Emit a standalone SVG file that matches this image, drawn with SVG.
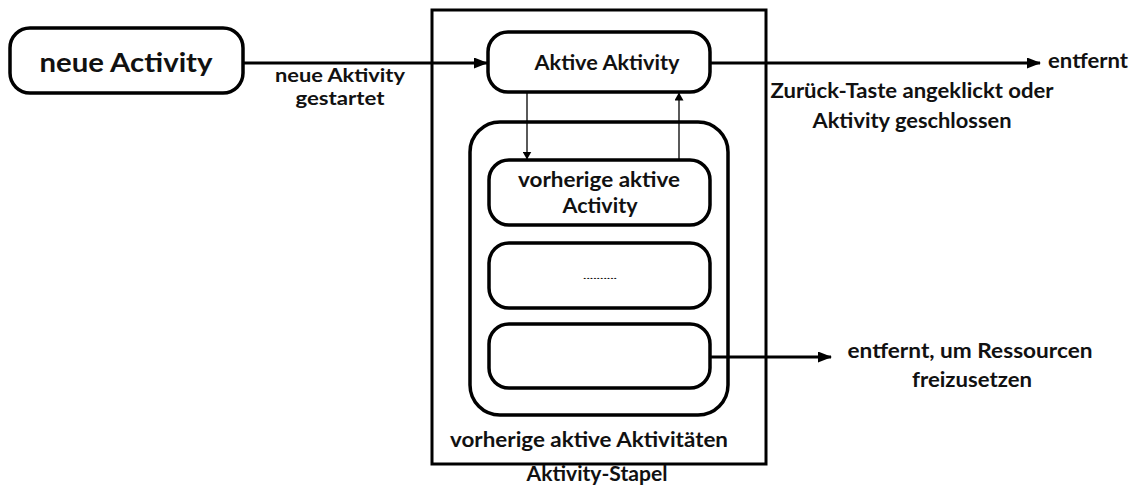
<svg xmlns="http://www.w3.org/2000/svg" width="1141" height="490" viewBox="0 0 1141 490">
  <defs>
    <marker id="arrowBig" viewBox="0 0 14 11" refX="13" refY="5.5" markerWidth="14" markerHeight="11" markerUnits="userSpaceOnUse" orient="auto">
      <path d="M0,0 L14,5.5 L0,11 Z" fill="#000"/>
    </marker>
    <marker id="arrowSmall" viewBox="0 0 8 9" refX="7.5" refY="4.5" markerWidth="8" markerHeight="9" markerUnits="userSpaceOnUse" orient="auto">
      <path d="M0,0 L8,4.5 L0,9 Z" fill="#000"/>
    </marker>
  </defs>
  <style>
    .box { fill: #fff; stroke: #000; stroke-width: 3.5; }
    .frame { fill: none; stroke: #000; stroke-width: 3; }
    .t { font-family: Lato, "Open Sans", "Liberation Sans", sans-serif; font-weight: bold; fill: #111; text-anchor: middle; }
    .edge { fill: none; stroke: #000; stroke-width: 3; }
    .thin { fill: none; stroke: #000; stroke-width: 1.3; }
  </style>

  <rect width="1141" height="490" fill="#fff"/>

  <!-- activity stack frame -->
  <g id="stack">
    <rect class="frame" x="432" y="10" width="334" height="454"/>
    <text class="t" x="597" y="481" font-size="20" textLength="141" lengthAdjust="spacingAndGlyphs">Aktivity-Stapel</text>
  </g>

  <!-- previous activities container -->
  <g id="previous">
    <rect class="box" x="470" y="122" width="258" height="293" rx="30"/>
    <text class="t" x="589" y="447" font-size="20" textLength="278" lengthAdjust="spacingAndGlyphs">vorherige aktive Aktivitäten</text>
  </g>

  <g id="new-activity">
    <rect class="box" x="10" y="28" width="233" height="65" rx="20"/>
    <text class="t" x="126" y="72" font-size="27.5" textLength="173" lengthAdjust="spacingAndGlyphs">neue Activity</text>
  </g>

  <g id="active">
    <rect class="box" x="488" y="32" width="222" height="60" rx="20"/>
    <text class="t" x="607" y="70" font-size="21" textLength="145" lengthAdjust="spacingAndGlyphs">Aktive Aktivity</text>
  </g>

  <g id="prev-active">
    <rect class="box" x="489" y="160" width="221" height="65" rx="20"/>
    <text class="t" x="599" y="187" font-size="21" textLength="162" lengthAdjust="spacingAndGlyphs">vorherige aktive</text>
    <text class="t" x="600" y="213" font-size="21" textLength="75" lengthAdjust="spacingAndGlyphs">Activity</text>
  </g>

  <g id="ellipsis">
    <rect class="box" x="489" y="243" width="221" height="65" rx="20"/>
    <text class="t" x="600" y="279" font-size="8" font-weight="normal" fill="#555" textLength="34" lengthAdjust="spacingAndGlyphs">..........</text>
  </g>

  <g id="oldest">
    <rect class="box" x="489" y="324" width="221" height="64" rx="20"/>
  </g>

  <g id="connectors">
    <line class="edge" x1="243" y1="63" x2="487" y2="63" marker-end="url(#arrowBig)"/>
    <line class="edge" x1="710" y1="63" x2="1040" y2="63" marker-end="url(#arrowBig)"/>
    <line class="edge" x1="710" y1="357" x2="831" y2="357" marker-end="url(#arrowBig)"/>
    <line class="thin" x1="527" y1="92" x2="527" y2="159" marker-end="url(#arrowSmall)"/>
    <line class="thin" x1="679" y1="160" x2="679" y2="93" marker-end="url(#arrowSmall)"/>
  </g>

  <g id="labels">
    <text class="t" x="340" y="82" font-size="18.5" textLength="130" lengthAdjust="spacingAndGlyphs">neue Aktivity</text>
    <text class="t" x="340" y="105" font-size="18.5" textLength="89" lengthAdjust="spacingAndGlyphs">gestartet</text>
    <text class="t" x="1088" y="68" font-size="21" textLength="80" lengthAdjust="spacingAndGlyphs">entfernt</text>
    <text class="t" x="912" y="98" font-size="20.5" textLength="283" lengthAdjust="spacingAndGlyphs">Zurück-Taste angeklickt oder</text>
    <text class="t" x="912" y="128" font-size="20.5" textLength="199" lengthAdjust="spacingAndGlyphs">Aktivity geschlossen</text>
    <text class="t" x="970" y="358" font-size="20.5" textLength="245" lengthAdjust="spacingAndGlyphs">entfernt, um Ressourcen</text>
    <text class="t" x="972" y="387" font-size="20.5" textLength="120" lengthAdjust="spacingAndGlyphs">freizusetzen</text>
  </g>
</svg>
